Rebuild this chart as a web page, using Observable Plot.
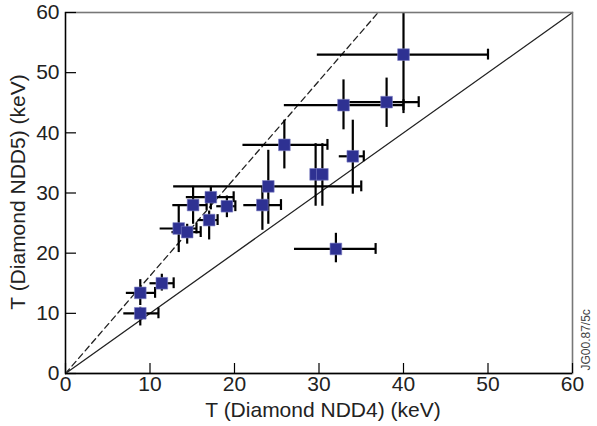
<!DOCTYPE html>
<html><head><meta charset="utf-8">
<script src="https://cdn.jsdelivr.net/npm/d3@7"></script>
<script src="https://cdn.jsdelivr.net/npm/@observablehq/plot@0.6"></script>
<style>
body{margin:0;background:#fff;}
svg{display:block;}
</style>
</head><body><div id="chart"></div>
<script>
// T (Diamond NDD4) values and x-error extents (keV)
const ndd4   = [40.0, 32.9, 38.0, 25.9, 34.0, 29.6, 30.4, 24.0, 23.3, 19.1, 17.2, 15.1, 17.0, 13.4, 14.4, 32.0, 11.4, 8.85, 8.85];
const ndd4Lo = [29.8, 25.9, 33.6, 21.0, 32.4, 29.6, 30.4, 12.8, 21.1, 17.9, 14.3, 12.7, 15.7, 11.2, 12.6, 27.1, 10.0, 7.2, 6.9];
const ndd4Hi = [50.0, 40.0, 41.8, 31.0, 35.3, 29.6, 30.4, 35.0, 25.5, 20.1, 19.9, 16.7, 18.0, 15.5, 16.0, 36.7, 12.8, 10.6, 11.0];
// T (Diamond NDD5) values and y-error extents (keV)
const ndd5   = [53.0, 44.6, 45.1, 38.0, 36.1, 33.1, 33.1, 31.1, 28.0, 27.8, 29.3, 28.0, 25.5, 24.1, 23.5, 20.7, 15.0, 13.4, 10.0];
const ndd5Lo = [43.2, 40.5, 40.9, 34.0, 29.8, 27.8, 27.8, 24.8, 23.8, 25.9, 27.2, 24.8, 22.2, 20.1, 21.5, 18.4, 13.7, 11.3, 7.9];
const ndd5Hi = [61.0, 48.8, 49.1, 42.1, 42.1, 38.2, 38.2, 37.1, 31.0, 29.5, 31.1, 31.1, 27.0, 27.9, 24.8, 23.3, 16.5, 15.6, 11.0];

const xTicks = [0, 10, 20, 30, 40, 50, 60];
const yTicks = [0, 10, 20, 30, 40, 50, 60];
const equalLine = [[0, 0], [60, 60]];
const dashedLine = [[0, 0], [37, 60]];
const xTitle = "T (Diamond NDD4) (keV)";
const yTitle = "T (Diamond NDD5) (keV)";
const code = "JG00.87/5c";

const rows = ndd4.map((x, i) => ({x, y: ndd5[i], x1: ndd4Lo[i], x2: ndd4Hi[i], y1: ndd5Lo[i], y2: ndd5Hi[i]}));
const capped = rows.filter(d => d.x2 > d.x + 0.3);

const W = 597, H = 426, mL = 65, mR = 25, mT = 12, mB = 53;
const innerW = W - mL - mR, innerH = H - mT - mB;
const font = "'Liberation Sans', Arial, Helvetica, sans-serif";
const fs = 21;

const plot = Plot.plot({
  width: W, height: H,
  marginLeft: mL, marginRight: mR, marginTop: mT, marginBottom: mB,
  style: {fontFamily: font, background: "#fff", color: "#222"},
  x: {domain: [0, 60]},
  y: {domain: [0, 60]},
  marks: [
    Plot.line(equalLine, {x: d => d[0], y: d => d[1], stroke: "#222", strokeWidth: 1.3}),
    Plot.line(dashedLine, {x: d => d[0], y: d => d[1], stroke: "#222", strokeWidth: 1.3, strokeDasharray: "6,4"}),
    Plot.ruleY(rows, {y: "y", x1: "x1", x2: "x2", stroke: "#000", strokeWidth: 2.2}),
    Plot.ruleX(rows, {x: "x", y1: "y1", y2: "y2", stroke: "#000", strokeWidth: 2.2, clip: true}),
    Plot.ruleX(capped, {x: "x2", y1: d => d.y - 0.9, y2: d => d.y + 0.9, stroke: "#000", strokeWidth: 2.2}),
    Plot.dot(rows, {x: "x", y: "y", symbol: "square", r: 6.6, fill: "#2e3192", stroke: "#7f82c4", strokeWidth: 0.6}),
    Plot.frame({stroke: "#777", strokeWidth: 1.6}),
    Plot.ruleX([0], {stroke: "#000", strokeWidth: 1.3}),
    Plot.ruleY([0], {stroke: "#000", strokeWidth: 1.3}),
    // inward tick marks
    Plot.ruleX(xTicks, {insetTop: innerH - 10, stroke: "#000", strokeWidth: 1.2}),
    Plot.ruleY(yTicks, {insetRight: innerW - 11, stroke: "#000", strokeWidth: 1.2}),
    Plot.axisX(xTicks, {tickSize: 0, tickPadding: 3, fontSize: fs, fill: "#222", label: null}),
    Plot.axisY(yTicks, {tickSize: 0, tickPadding: 6, fontSize: fs, fill: "#222", label: null}),
    Plot.text([xTitle], {frameAnchor: "bottom", textAnchor: "middle", lineAnchor: "middle", dy: 37, dx: 4, fontSize: fs, fill: "#222"}),
    Plot.text([yTitle], {frameAnchor: "left", textAnchor: "middle", lineAnchor: "middle", rotate: -90, dx: -47, dy: -1, fontSize: fs, fill: "#222"}),
    Plot.text([code], {frameAnchor: "bottom-right", rotate: -90, textAnchor: "start", lineAnchor: "middle", dx: 14, dy: -3, fontSize: 12, fill: "#444"})
  ]
});
document.getElementById("chart").appendChild(plot);
</script>
</body></html>
